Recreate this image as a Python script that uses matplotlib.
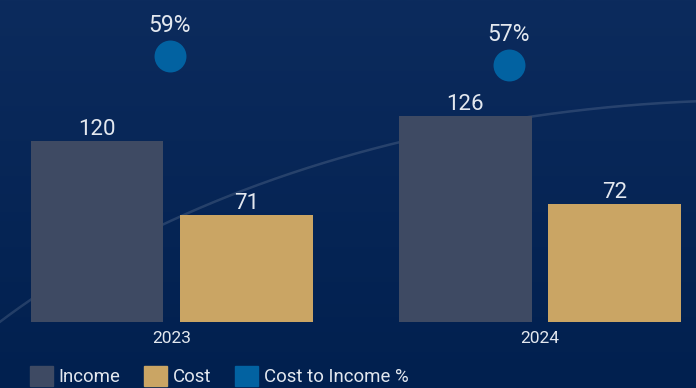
import numpy as np
import matplotlib.pyplot as plt
from matplotlib.colors import LinearSegmentedColormap
from matplotlib.patches import Patch

years = ['2023', '2024']
income = [120, 126]
cost = [71, 72]
cost_to_income = [59, 57]

INCOME_C = '#3e4a63'
COST_C = '#caa564'
DOT_C = '#0262a1'
TEXT_C = '#e3e8ef'

plt.rcParams['font.family'] = ['Roboto', 'DejaVu Sans']

W, H = 696, 388
fig = plt.figure(figsize=(W / 100, H / 100), dpi=100)

# background gradient + faint decorative curve (pixel coords, y down)
bg = fig.add_axes([0, 0, 1, 1], zorder=0)
grad = np.linspace(0, 1, 256).reshape(-1, 1)
cmap = LinearSegmentedColormap.from_list('bg', ['#0c2b5d', '#01204f'])
bg.imshow(grad, aspect='auto', cmap=cmap, extent=[0, W, H, 0])
cx, cy, a, b = 760, 700, 979, 600
xs = np.linspace(-20, W + 10, 400)
ys = cy - b * np.sqrt(1 - ((xs - cx) / a) ** 2)
bg.plot(xs, ys, color='white', alpha=0.13, lw=1.8)
bg.set_xlim(0, W)
bg.set_ylim(H, 0)
bg.axis('off')

# one panel per year, each with its own scale
panel_left = [21.75, 390]
panel_top = [213.5, 197]
dot_offset = [-0.015, -0.207]
bar_off, bar_w = 0.498, 0.883

for i, yr in enumerate(years):
    ax = fig.add_axes([panel_left[i] / W, 66 / H, 300 / W, 322 / H], zorder=2)
    ax.patch.set_alpha(0)
    ax.set_xlim(-1, 1)
    ax.set_ylim(0, panel_top[i])
    ax.bar(-bar_off, income[i], width=bar_w, color=INCOME_C)
    ax.bar(bar_off, cost[i], width=bar_w, color=COST_C)
    for x, v in [(-bar_off, income[i]), (bar_off, cost[i])]:
        ax.annotate(str(v), (x, v), xytext=(0, 1), textcoords='offset points',
                    ha='center', va='bottom', color=TEXT_C, fontsize=16)
    ax.set_xticks([0], [yr])
    ax.tick_params(axis='x', length=0, pad=6.5, labelsize=12.5, labelcolor=TEXT_C)
    ax.set_yticks([])
    for s in ax.spines.values():
        s.set_visible(False)

    ax2 = ax.twinx()
    ax2.set_ylim(0, 71.5)
    ax2.scatter([dot_offset[i]], [cost_to_income[i]], s=23 ** 2, color=DOT_C, linewidths=0)
    ax2.annotate(f'{cost_to_income[i]}%', (dot_offset[i], cost_to_income[i]), xytext=(0, 14),
                 textcoords='offset points', ha='center', va='bottom', color=TEXT_C,
                 fontsize=16.5)
    ax2.set_yticks([])
    for s in ax2.spines.values():
        s.set_visible(False)

handles = [Patch(color=INCOME_C), Patch(color=COST_C), Patch(color=DOT_C)]
fig.legend(handles, ['Income', 'Cost', 'Cost to Income %'], loc='upper left',
           bbox_to_anchor=(30 / W, 1 - 366 / H), ncol=3, frameon=False, fontsize=13.4,
           labelcolor=TEXT_C, handlelength=1.24, handleheight=1.24, handletextpad=0.28,
           columnspacing=1.3, borderpad=0, borderaxespad=0)

fig.savefig('out.png', dpi=100)
